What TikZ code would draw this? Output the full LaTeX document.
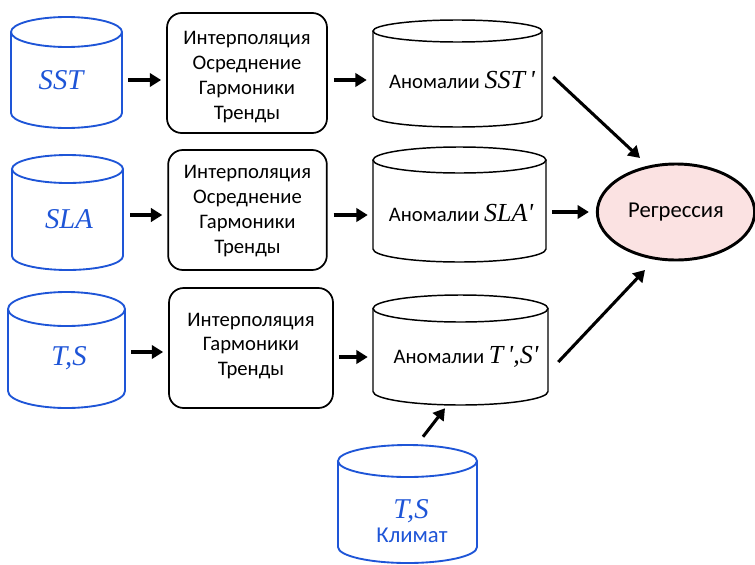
\documentclass[tikz,border=0pt]{standalone}
\usepackage{fontspec}
\setmainfont{Carlito}
\newfontfamily\timesf{Liberation Serif}
\usetikzlibrary{arrows.meta,shapes.geometric,calc}
\definecolor{cblue}{RGB}{30,85,215}
\definecolor{rpink}{RGB}{251,226,226}
\newcommand\mycyl[7]{%
 \draw[#7] (#2,{#3+#6}) -- (#2,{#5-#6}) arc[start angle=180,end angle=0,x radius={(#4-#2)/2},y radius=#6] -- (#4,{#3+#6});
 \draw[#7] ({(#2+#4)/2},{#3+#6}) ellipse[x radius={(#4-#2)/2},y radius=#6];
 \path ({(#2+#4)/2},{(#3+#5)/2}) node[inner sep=0,minimum width={(#4-#2)*0.75pt},minimum height={(#5-#3)*0.75pt}] (#1) {};
}
\tikzset{
 bcyl/.style={draw=cblue,line width=1.4pt},
 kcyl/.style={draw=black,line width=1.1pt},
 proc/.style={draw,line width=1.3pt,rounded corners=11pt,inner sep=0},
 proct/.style={align=center,inner sep=0,font=\fontsize{15.5}{18.7}\selectfont},
 bluet/.style={text=cblue,font=\timesf\itshape\fontsize{21.5}{21.5}\selectfont,inner sep=0},
 anomt/.style={font=\fontsize{15.5}{18}\selectfont,inner sep=0},
 arr/.style={line width=2.3pt,-{Triangle[length=8.5pt,width=10pt]}},
}
\newcommand\varitx[1]{{\timesf\itshape\fontsize{19.5}{19.5}\selectfont #1}}
\newcommand\myq{\textquotesingle}
\begin{document}
\begin{tikzpicture}[x=0.75pt,y=-0.75pt]
\useasboundingbox (0,0) rectangle (755,564);
% source cylinders
\mycyl{sst}{11}{17}{122}{128}{15}{bcyl}
\mycyl{sla}{12}{155}{123}{270}{14}{bcyl}
\mycyl{ts}{8}{292}{125}{408}{17}{bcyl}
\mycyl{clim}{338}{445}{477}{563}{16}{bcyl}
\node[bluet] (tsst) at (61,80) {SST};
\node[bluet] (tsla) at (69,219) {SLA};
\node[bluet] (tts) at (69,358) {T,S};
\node[bluet] (tclim) at (411,511) {T,S};
\node[text=cblue,font=\fontsize{17}{17}\selectfont,inner sep=0] (tklim) at (412,535) {Климат};
% processing boxes
\node[proc,minimum width=120pt,minimum height=90pt] (box1) at (247,73) {};
\node[proct] (t1) at (247,77) {Интерполяция\\Осреднение\\Гармоники\\Тренды};
\node[proc,minimum width=119pt,minimum height=90pt] (box2) at (247.5,210) {};
\node[proct] (t2) at (247.5,211) {Интерполяция\\Осреднение\\Гармоники\\Тренды};
\node[proc,minimum width=123pt,minimum height=90pt] (box3) at (251,348) {};
\node[proct] (t3) at (251,346) {Интерполяция\\Гармоники\\Тренды};
% anomaly cylinders
\mycyl{anom1}{373}{20}{542}{127}{11}{kcyl}
\mycyl{anom2}{373}{147}{546}{262}{13}{kcyl}
\mycyl{anom3}{373}{295}{548}{405}{13.5}{kcyl}
\node[anomt] (ta1) at (462,80) {Аномалии \varitx{SST\,\myq}};
\node[anomt] (ta2) at (461,213) {Аномалии \varitx{SLA\myq}};
\node[anomt] (ta3) at (466,357) {Аномалии \varitx{T\,\myq,S\myq}};
% regression
\node[ellipse,draw,line width=2.2pt,fill=rpink,minimum width=118pt,minimum height=72pt,
  font=\fontsize{17}{17}\selectfont] (regr) at (676,212) {Регрессия};
% arrows
\draw[arr] ($(sst.east)+(6,7.5)$) -- ($(box1.west)+(-5,7)$);
\draw[arr] ($(box1.east)+(6,7)$) -- ($(anom1.west)+(-6,6.5)$);
\draw[arr] ($(sla.east)+(7,2.5)$) -- ($(box2.west)+(-5,5)$);
\draw[arr] ($(box2.east)+(6,5)$) -- ($(anom2.west)+(-5,10.5)$);
\draw[arr] ($(ts.east)+(6,2)$) -- ($(box3.west)+(-5,4)$);
\draw[arr] ($(box3.east)+(5,9)$) -- ($(anom3.west)+(-5,7)$);
\draw[arr] ($(anom1.east)+(11,3.5)$) -- ($(regr.center)+(-36,-54)$);
\draw[arr] ($(anom2.east)+(6,7.5)$) -- ($(regr.west)+(-7,0)$);
\draw[arr] ($(anom3.east)+(10,12)$) -- ($(regr.center)+(-31,58)$);
\draw[arr] ($(clim.north)+(15.5,-8)$) -- ($(anom3.south)+(-15.5,3)$);
\end{tikzpicture}
\end{document}
